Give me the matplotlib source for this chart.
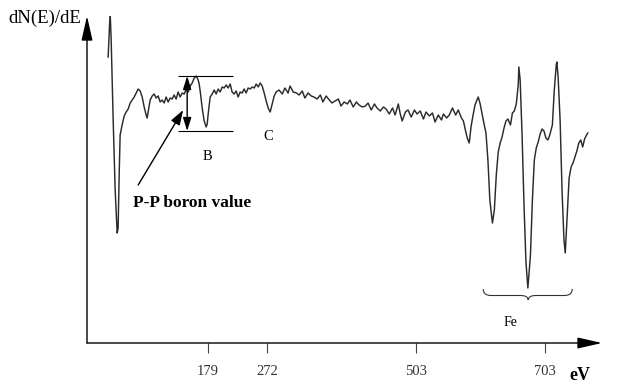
import matplotlib
matplotlib.use("Agg")
import matplotlib.pyplot as plt
from matplotlib.path import Path
from matplotlib.patches import PathPatch

plt.rcParams["font.family"] = ["Liberation Serif", "DejaVu Serif"]

# Auger spectrum (energy in eV, dN(E)/dE in arbitrary units)
energy_ev = [
    24.8, 27.9, 29.5, 32.6, 35.7, 38.8, 40.3, 41.9, 43.4, 46.5, 49.7, 52.8, 55.9, 59.0,
    62.1, 65.2, 68.3, 71.4, 74.5, 77.6, 80.7, 83.8, 85.3, 86.9, 90.0, 93.1,
    96.2, 99.3, 102.4, 105.5, 108.6, 111.7, 114.8, 117.9, 121.0, 124.1, 127.2, 130.3,
    133.4, 136.5, 139.7, 142.8, 145.9, 149.0, 152.1, 155.2, 158.3, 161.4, 164.5, 166.0,
    167.6, 170.7, 173.8, 176.9, 178.5, 180.0, 183.1, 186.2, 189.3, 192.4, 195.5, 198.6,
    201.7, 204.8, 207.9, 211.0, 214.1, 217.2, 220.3, 223.4, 226.5, 229.6, 232.7, 235.8,
    238.9, 242.0, 245.2, 248.3, 251.4, 254.5, 257.6, 260.7, 263.8, 266.9, 270.0, 273.1,
    276.2, 279.3, 282.4, 285.5,
    290, 295, 299, 304, 307, 312, 317, 321, 326, 330, 335, 340, 344, 349, 354, 358,
    363, 368, 372, 377, 382, 386, 391, 396, 400, 405, 410, 414, 419, 424, 428, 433,
    438, 442, 447, 452, 456, 461, 466, 470, 475, 478, 481, 486, 490, 495, 500, 504,
    509, 514, 518, 523, 528, 532, 537, 542, 545, 550, 554, 559, 564, 568, 573, 576,
    579, 582, 585, 588, 591, 594, 597, 599, 602, 605, 608, 611, 614, 617, 621, 624,
    627, 630, 633, 636, 639, 642, 645, 649, 652, 655, 658, 661, 662, 664, 667, 670,
    673, 676, 680, 683, 686, 689, 692, 695, 698, 701, 704, 707, 710, 714, 717, 720,
    721, 723, 726, 729, 732, 734, 737, 740, 743, 746, 749, 752, 755, 758, 761, 764,
    767, 769,
]
dnde = [
    286, 331, 303, 223, 153, 110, 115, 168, 208, 218, 227, 231, 234, 240,
    243, 246, 250, 254, 252, 246, 236, 228, 225, 231, 243, 247,
    249, 245, 247, 241, 243, 240, 246, 241, 245, 244, 248, 244,
    251, 246, 250, 249, 254, 251, 257, 260, 265, 267, 263, 259,
    252, 235, 222, 216, 219, 229, 246, 249, 253, 249, 254, 251,
    256, 255, 258, 255, 259, 251, 249, 252, 246, 251, 250, 254,
    250, 255, 254, 256, 255, 259, 256, 260, 257, 250, 242, 235,
    231, 239, 247, 251,
    253, 249, 255, 250, 257, 251, 250, 248, 252, 245, 250, 247, 246, 244, 248, 241,
    247, 243, 240, 242, 244, 237, 241, 239, 243, 236, 241, 238, 236, 237, 240, 233,
    239, 235, 232, 236, 234, 229, 235, 228, 239, 229, 222, 231, 233, 226, 233, 229,
    232, 224, 231, 227, 230, 221, 228, 223, 229, 225, 228, 235, 228, 233, 225, 222,
    213, 205, 200, 217, 228, 238, 243, 246, 239, 229, 219, 210, 183, 143, 120, 133,
    168, 191, 200, 206, 215, 222, 224, 218, 230, 232, 239, 258, 276, 263, 208, 138,
    81, 55, 88, 143, 183, 195, 201, 209, 214, 212, 205, 203, 208, 218, 253, 278,
    281, 265, 223, 153, 103, 90, 128, 165, 176, 180, 186, 192, 200, 203, 196, 204,
    208, 210,
]

tick_ev = [179, 272, 503, 703]
tick_labels = ["179", "272", "503", "703"]

W, H = 627, 383
fig = plt.figure(figsize=(W / 100, H / 100), dpi=100)
ax = fig.add_axes([87 / W, 40 / H, (602 - 87) / W, (343 - 16) / H])
ax.set_xlim(-8, 791)
ax.set_ylim(0, 327)

ax.plot(energy_ev, dnde, color="#2b2b2b", lw=1.05, solid_joinstyle="round")

# arrowed axes
for end in [(1, 0), (0, 1)]:
    ax.annotate("", xy=end, xytext=(0, 0), xycoords="axes fraction",
                arrowprops=dict(arrowstyle="-|>,head_length=0.75,head_width=0.17",
                                color="black", lw=1.0, mutation_scale=20,
                                shrinkA=0, shrinkB=0),
                annotation_clip=False)
for sp in ax.spines.values():
    sp.set_visible(False)

ax.set_xticks(tick_ev)
ax.set_xticklabels(tick_labels, fontsize=10.5, color="#333333")
ax.tick_params(axis="x", direction="out", length=7.5, width=0.8, color="#444444", pad=8)
ax.set_yticks([])

# peak-to-peak boron marker
ax.hlines([267, 212], 133.4, 218.8, color="black", lw=0.8)
ax.annotate("", xy=(147.4, 267), xytext=(147.4, 212),
            arrowprops=dict(arrowstyle="<|-|>,head_length=0.8,head_width=0.25",
                            color="black", lw=1.0, mutation_scale=10, shrinkA=0, shrinkB=0))
ax.annotate("", xy=(141.2, 233), xytext=(71.4, 158),
            arrowprops=dict(arrowstyle="-|>,head_length=0.9,head_width=0.3",
                            color="black", lw=1.0, mutation_scale=10, shrinkA=0, shrinkB=0))
ax.text(63.6, 140, "P-P boron value", fontsize=12.5, fontweight="bold", va="center", ha="left")
ax.text(178.4, 186, "B", fontsize=10.5, ha="center", va="center")
ax.text(273, 207, "C", fontsize=10.5, ha="center", va="center")
ax.text(648.6, 20, "Fe", fontsize=10, ha="center", va="center")

# curly brace under the Fe peaks
x0, x1, xm = 606.7, 744.8, 676.5
ytop, ymid, ytip = 54, 47.5, 43
d = 12
verts = [(x0, ytop), (x0, ymid), (x0 + d, ymid), (xm - d, ymid),
         (xm, ymid), (xm, ytip), (xm, ytip), (xm, ymid), (xm + d, ymid),
         (x1 - d, ymid), (x1, ymid), (x1, ytop)]
codes = [Path.MOVETO, Path.CURVE3, Path.CURVE3, Path.LINETO,
         Path.CURVE3, Path.CURVE3, Path.MOVETO, Path.CURVE3, Path.CURVE3,
         Path.LINETO, Path.CURVE3, Path.CURVE3]
ax.add_patch(PathPatch(Path(verts, codes), fc="none", ec="#333333", lw=0.8))

fig.text(45 / W, 1 - 18 / H, "dN(E)/dE", fontsize=13.5, ha="center", va="center")
fig.text(580 / W, 1 - 375 / H, "eV", fontsize=13, fontweight="bold", ha="center", va="center")

fig.savefig("out.png", dpi=100, facecolor="white")
